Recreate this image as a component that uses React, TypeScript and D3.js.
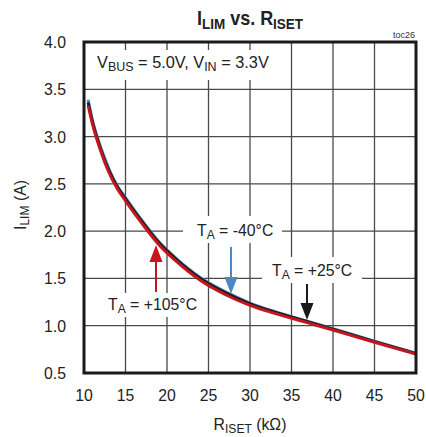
import React from "react";
import * as d3 from "d3";

const rIset = [10.5, 11, 12, 13, 14, 15, 17, 19, 21, 24, 27, 30, 33, 37, 40, 45, 50];
const iLimHot = [3.33, 3.14, 2.85, 2.62, 2.45, 2.32, 2.08, 1.86, 1.69, 1.48, 1.33, 1.215, 1.13, 1.03, 0.955, 0.825, 0.7];
const iLimRoom = [3.36, 3.16, 2.87, 2.64, 2.47, 2.34, 2.1, 1.88, 1.71, 1.5, 1.35, 1.232, 1.143, 1.04, 0.963, 0.832, 0.705];
const iLimCold = [3.39, 3.18, 2.89, 2.66, 2.48, 2.355, 2.11, 1.89, 1.72, 1.51, 1.36, 1.24, 1.148, 1.045, 0.968, 0.837, 0.71];
const xTicks = [10, 15, 20, 25, 30, 35, 40, 45, 50];
const yTicks = [0.5, 1.0, 1.5, 2.0, 2.5, 3.0, 3.5, 4.0];

const W = 426;
const H = 437;
const FONT = "'Liberation Sans', Arial, sans-serif";

function T(props: any) {
  const { x, y, sx = 0.93, anchor = "start", size = 17, weight = "normal", children } = props;
  return (
    <text
      transform={`translate(${x},${y}) scale(${sx},1)`}
      textAnchor={anchor}
      fontSize={size}
      fontWeight={weight}
      fill="#222"
    >
      {children}
    </text>
  );
}

export default function App() {
  const x = d3.scaleLinear().domain([10, 50]).range([84, 416]);
  const y = d3.scaleLinear().domain([0.5, 4]).range([373, 42]);
  const line = (vals: number[]) =>
    d3
      .line<number>()
      .x((_, i) => x(rIset[i]))
      .y((v) => y(v))
      .curve(d3.curveMonotoneX)(vals) || "";

  const grid = "#4a4a4a";
  const red = "#c4161c";
  const blue = "#4f86c6";

  const arrow = (ax: number, y0: number, tip: number, color: string) => {
    const dir = tip > y0 ? 1 : -1;
    const hh = 17;
    const hw = 6.5;
    const base = tip - dir * hh;
    return (
      <g>
        <line x1={ax} x2={ax} y1={y0} y2={base} stroke={color} strokeWidth={2} />
        <path d={`M${ax - hw},${base}L${ax + hw},${base}L${ax},${tip}Z`} fill={color} />
      </g>
    );
  };

  return (
    <svg
      width={W}
      height={H}
      style={{ position: "absolute", left: 0, top: 0, background: "#fff" }}
      fontFamily={FONT}
    >
      <rect x={0} y={0} width={W} height={H} fill="#fff" />
      {xTicks.slice(1, -1).map((t) => (
        <line key={"gx" + t} x1={x(t)} x2={x(t)} y1={y(4)} y2={y(0.5)} stroke={grid} strokeWidth={1.3} />
      ))}
      {yTicks.slice(1, -1).map((t) => (
        <line key={"gy" + t} x1={x(10)} x2={x(50)} y1={y(t)} y2={y(t)} stroke={grid} strokeWidth={1.3} />
      ))}
      <rect x={88} y={50} width={190} height={30} fill="#fff" />
      <rect x={183} y={216} width={99} height={27} fill="#fff" />
      <rect x={262} y={257} width={100} height={26} fill="#fff" />
      <rect x={100} y={293} width={103} height={24} fill="#fff" />

      <path d={line(iLimCold)} fill="none" stroke={blue} strokeWidth={3} />
      <path d={line(iLimRoom)} fill="none" stroke="#1a1a1a" strokeWidth={3} />
      <path d={line(iLimHot)} fill="none" stroke={red} strokeWidth={3} />

      <rect x={x(10)} y={y(4)} width={x(50) - x(10)} height={y(0.5) - y(4)} fill="none" stroke="#1a1a1a" strokeWidth={3} />

      {xTicks.map((t) => (
        <T key={"tx" + t} x={x(t)} y={401} anchor="middle">
          {t}
        </T>
      ))}
      {yTicks.map((t) => (
        <T key={"ty" + t} x={66} y={y(t) + 6} anchor="end">
          {t.toFixed(1)}
        </T>
      ))}

      <T x={250} y={25} anchor="middle" size={20} weight="bold" sx={0.9}>
        I<tspan fontSize={15} dy={4}>LIM</tspan>
        <tspan dy={-4}> vs. R</tspan>
        <tspan fontSize={15} dy={4}>ISET</tspan>
      </T>
      <text x={415} y={38} textAnchor="end" fontSize={9} fill="#333">
        toc26
      </text>

      <T x={250} y={430} anchor="middle">
        R<tspan fontSize={13} dy={3}>ISET</tspan>
        <tspan dy={-3}> (kΩ)</tspan>
      </T>
      <text transform="translate(26,205) rotate(-90) scale(0.93,1)" textAnchor="middle" fontSize={17} fill="#222">
        I<tspan fontSize={13} dy={3}>LIM</tspan>
        <tspan dy={-3}> (A)</tspan>
      </text>

      <T x={97} y={68} sx={0.96}>
        V<tspan fontSize={13} dy={3}>BUS</tspan>
        <tspan dy={-3}> = 5.0V, V</tspan>
        <tspan fontSize={13} dy={3}>IN</tspan>
        <tspan dy={-3}> = 3.3V</tspan>
      </T>
      <T x={197} y={236} sx={0.93}>
        T<tspan fontSize={13} dy={3}>A</tspan>
        <tspan dy={-3}> = -40°C</tspan>
      </T>
      <T x={272} y={276} sx={0.93}>
        T<tspan fontSize={13} dy={3}>A</tspan>
        <tspan dy={-3}> = +25°C</tspan>
      </T>
      <T x={108} y={310} sx={0.93}>
        T<tspan fontSize={13} dy={3}>A</tspan>
        <tspan dy={-3}> = +105°C</tspan>
      </T>
      {arrow(231, 247, 294, blue)}
      {arrow(307, 284, 320, "#1a1a1a")}
      {arrow(156, 292, 245, red)}
    </svg>
  );
}
